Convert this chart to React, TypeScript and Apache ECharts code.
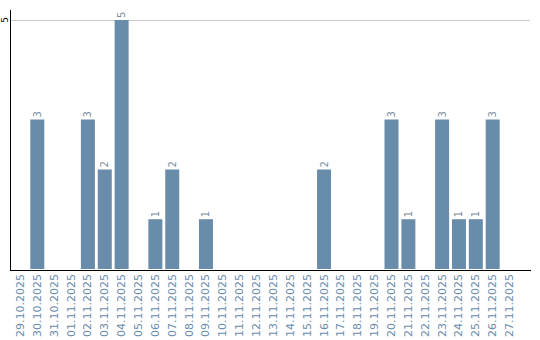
import React, { useEffect, useRef } from "react";
import * as echarts from "echarts";

const categories = [
  "29.10.2025", "30.10.2025", "31.10.2025", "01.11.2025", "02.11.2025", "03.11.2025",
  "04.11.2025", "05.11.2025", "06.11.2025", "07.11.2025", "08.11.2025", "09.11.2025",
  "10.11.2025", "11.11.2025", "12.11.2025", "13.11.2025", "14.11.2025", "15.11.2025",
  "16.11.2025", "17.11.2025", "18.11.2025", "19.11.2025", "20.11.2025", "21.11.2025",
  "22.11.2025", "23.11.2025", "24.11.2025", "25.11.2025", "26.11.2025", "27.11.2025",
];
const values = [
  0, 3, 0, 0, 3, 2, 5, 0, 1, 2, 0, 1, 0, 0, 0, 0, 0, 0,
  2, 0, 0, 0, 3, 1, 0, 3, 1, 1, 3, 0,
];
const yTicks = [5];

export default function App() {
  const ref = useRef<HTMLDivElement>(null);
  useEffect(() => {
    if (!ref.current) return;
    const chart = echarts.init(ref.current, null, { renderer: "svg" });
    const blue = "#6a8cab";
    chart.setOption({
      animation: false,
      grid: { left: 8, right: 22, top: 20, bottom: 70, containLabel: false },
      xAxis: {
        type: "category",
        data: categories,
        axisLine: { show: false },
        axisTick: { show: false },
        axisLabel: {
          rotate: 90,
          interval: 0,
          color: blue,
          fontSize: 11,
          fontFamily: "DejaVu Sans",
          margin: 5,
        },
      },
      yAxis: {
        type: "value",
        min: 0,
        max: 5,
        interval: 5,
        axisLine: { show: false },
        axisTick: { show: false },
        splitLine: { show: false },
        axisLabel: {
          rotate: 90,
          margin: 3,
          color: "#000",
          fontSize: 9,
          fontFamily: "DejaVu Sans",
          formatter: (v: number) => (yTicks.includes(v) ? String(v) : ""),
        },
      },
      graphic: [
        { type: "line", shape: { x1: 10, y1: 20.5, x2: 530, y2: 20.5 }, style: { stroke: "#cccccc", lineWidth: 1 }, z: 0 },
        { type: "line", shape: { x1: 10.5, y1: 10, x2: 10.5, y2: 270 }, style: { stroke: "#000", lineWidth: 1 }, z: 10 },
        { type: "line", shape: { x1: 10, y1: 270.5, x2: 531, y2: 270.5 }, style: { stroke: "#000", lineWidth: 1 }, z: 10 },
      ],
      series: [
        {
          type: "bar",
          data: values,
          barWidth: 14,
          itemStyle: { color: blue },
          label: {
            show: true,
            position: "top",
            rotate: 90,
            align: "left",
            verticalAlign: "middle",
            distance: 2,
            color: "#7a8ea0",
            fontSize: 10,
            fontFamily: "DejaVu Sans",
            formatter: (p: any) => (p.value > 0 ? String(p.value) : ""),
          },
        },
      ],
    });
    return () => chart.dispose();
  }, []);
  return <div ref={ref} style={{ width: 540, height: 340, position: "absolute", left: 0, top: 0 }} />;
}
